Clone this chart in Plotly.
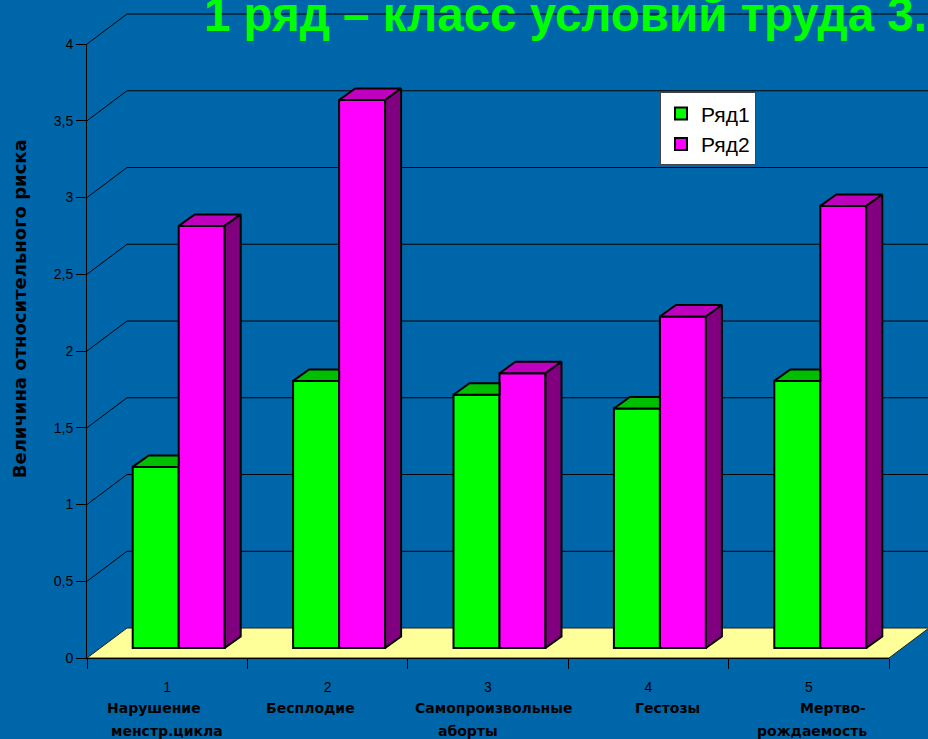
import plotly.graph_objects as go

categories = [1, 2, 3, 4, 5]
label_line_1 = ["Нарушение", "Бесплодие", "Самопроизвольные", "Гестозы", "Мертво-"]
label_line_2 = ["менстр.цикла", "", "аборты", "", "рождаемость"]
series_1 = [1.18, 1.74, 1.65, 1.56, 1.74]
series_2 = [2.75, 3.57, 1.79, 2.16, 2.88]
y_ticks = [0, 0.5, 1, 1.5, 2, 2.5, 3, 3.5, 4]
y_tick_labels = ["0", "0,5", "1", "1,5", "2", "2,5", "3", "3,5", "4"]

W, H = 928, 739
L, R, T, B = 87, 889, 43.5, 658
BG = "#0066AA"
UX = (R - L) / 5
UY = (B - T) / 4

# pseudo-3D geometry, in axis units
BAR_W = 46 / UX
BAR_SHIFT = 11.5 / UX
FLOOR = 10 / UY
DEPTH_X, DEPTH_Y = 16 / UX, 11.5 / UY
WALL_X, WALL_Y = 40 / UX, 30 / UY

def px(v):
    return (v - 0.5) / 5

def py(v):
    return v / 4

def page_x(p):
    return (p - L) / (R - L)

def page_y(p):
    return (B - p) / (B - T)

fig = go.Figure()
lefts = {0: -BAR_W + BAR_SHIFT, 1: BAR_SHIFT}
for i, (name, vals, col) in enumerate([("Ряд1", series_1, "#00FF00"), ("Ряд2", series_2, "#FF00FF")]):
    fig.add_trace(go.Bar(x=categories, y=vals, base=FLOOR, width=BAR_W, offset=lefts[i], name=name,
                         marker=dict(color=col, line=dict(color="black", width=2)), hoverinfo="skip"))

def poly(xs, ys, col):
    fig.add_trace(go.Scatter(x=xs + xs[:1], y=ys + ys[:1], mode="lines", fill="toself", fillcolor=col,
                             line=dict(color="black", width=2), showlegend=False, hoverinfo="skip"))

for c, v1, v2 in zip(categories, series_1, series_2):
    a = c + lefts[0]
    b = c + lefts[1]
    d = b + BAR_W
    t1, t2 = v1 + FLOOR, v2 + FLOOR
    poly([a, b, b, a + DEPTH_X], [t1, t1, t1 + DEPTH_Y, t1 + DEPTH_Y], "#00BF00")
    poly([b, d, d + DEPTH_X, b + DEPTH_X], [t2, t2, t2 + DEPTH_Y, t2 + DEPTH_Y], "#BF00BF")
    poly([d, d, d + DEPTH_X, d + DEPTH_X], [FLOOR, t2, t2 + DEPTH_Y, FLOOR + DEPTH_Y], "#800080")

shapes = []
x0, x1, xb0, xb1 = px(0.5), px(5.5), px(0.5 + WALL_X), px(5.5 + WALL_X)
shapes.append(dict(type="path", xref="paper", yref="paper", layer="below",
                   path=f"M{x0},{py(0)} L{x1},{py(0)} L{xb1},{py(WALL_Y)} L{xb0},{py(WALL_Y)} Z",
                   fillcolor="#FFFF99", line=dict(color="#222222", width=1)))
for v in y_ticks[1:]:
    shapes.append(dict(type="path", xref="paper", yref="paper", layer="below",
                       path=f"M{x0},{py(v)} L{xb0},{py(v + WALL_Y)} L{xb1},{py(v + WALL_Y)}",
                       line=dict(color="black", width=1)))

annotations = [
    dict(text="<b>1 ряд – класс условий труда 3.</b>", xref="paper", yref="paper", x=page_x(202),
         y=page_y(14), xanchor="left", yanchor="middle", showarrow=False,
         font=dict(family="Liberation Sans", size=47.5, color="#00FF00")),
    dict(text="<b>Величина относительного риска</b>", xref="paper", yref="paper", x=page_x(19),
         y=page_y(309), xanchor="center", yanchor="middle", textangle=-90, showarrow=False,
         font=dict(family="DejaVu Sans", size=18, color="black")),
]
line_1_x = [154, 310, 493, 667, 833]
line_2_x = [167, 310, 468, 667, 812]
for t1, t2, c1, c2 in zip(label_line_1, label_line_2, line_1_x, line_2_x):
    for text, cx, cy in ((t1, c1, 708), (t2, c2, 731)):
        if text:
            annotations.append(dict(text=f"<b>{text}</b>", xref="paper", yref="paper", x=page_x(cx), y=page_y(cy),
                                    xanchor="center", yanchor="middle", showarrow=False,
                                    font=dict(family="DejaVu Sans", size=14, color="black")))

fig.update_layout(
    width=W, height=H, margin=dict(l=L, r=W - R, t=T, b=H - B),
    paper_bgcolor=BG, plot_bgcolor=BG, barmode="overlay", shapes=shapes, annotations=annotations,
    font=dict(family="Liberation Sans", color="black"),
    legend=dict(x=page_x(660), y=page_y(92), xanchor="left", yanchor="top", bgcolor="white",
                bordercolor="#444444", borderwidth=1, font=dict(family="Liberation Sans", size=21, color="black"),
                itemwidth=30, entrywidth=30, entrywidthmode="pixels"),
    xaxis=dict(range=[0.5, 5.5], tickvals=categories, ticktext=[str(c) for c in categories], ticks="",
               ticklabelstandoff=16, showgrid=False, zeroline=False, showline=True, linecolor="black", linewidth=1,
               tickfont=dict(size=14), minor=dict(tick0=0.5, dtick=1, ticks="outside", ticklen=10, tickcolor="black", showgrid=False)),
    yaxis=dict(range=[0, 4], tickvals=y_ticks, ticktext=y_tick_labels, ticks="outside", ticklen=10, tickcolor="black",
               showgrid=False, zeroline=False, showline=True, linecolor="black", linewidth=1, tickfont=dict(size=14)),
)
fig.write_html("out.html", config=dict(displayModeBar=False), post_script="document.body.style.margin='0';")
